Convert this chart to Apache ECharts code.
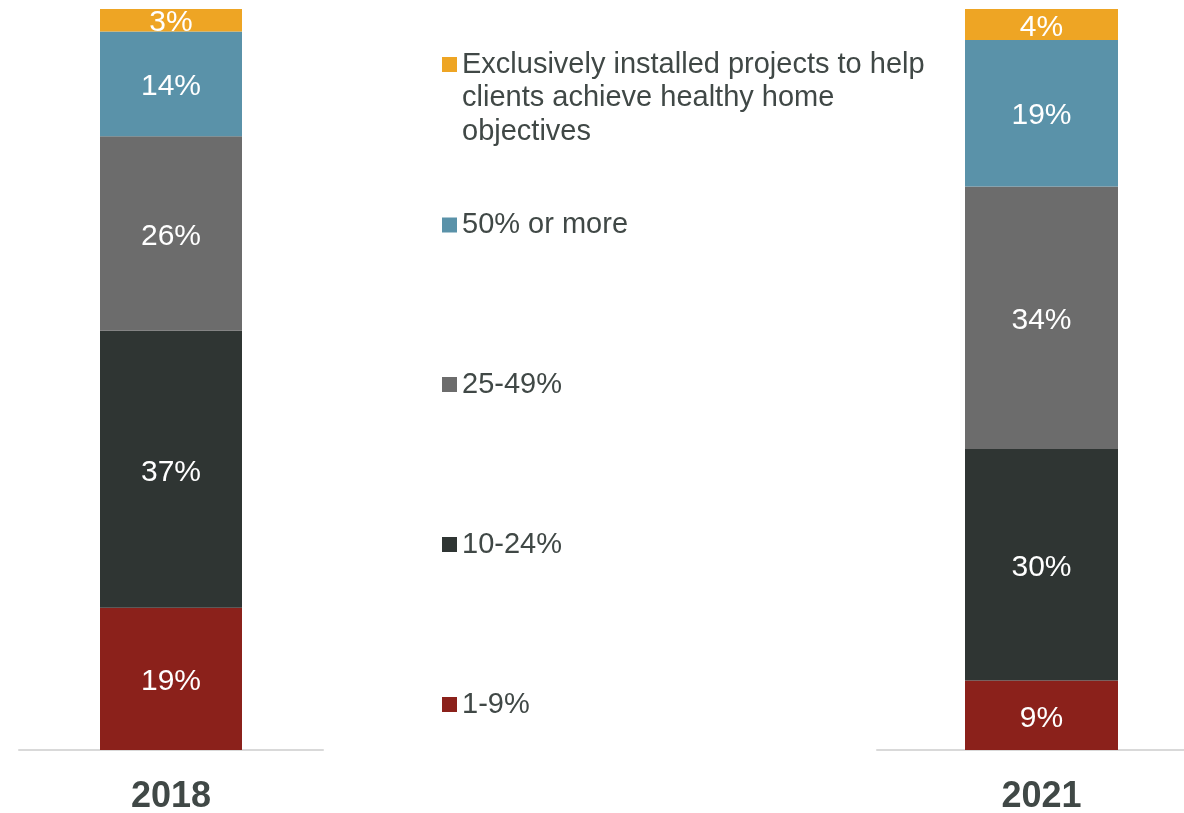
<!DOCTYPE html>
<html>
<head>
<meta charset="utf-8">
<script src="https://cdn.jsdelivr.net/npm/echarts@6/dist/echarts.min.js"></script>
<style>
  html, body { margin: 0; padding: 0; background: #ffffff; }
  #chart { width: 1184px; height: 813px; }
</style>
</head>
<body>
<div id="chart"></div>
<script>
// Survey years, one bar each
const years = ['2018', '2021'];

// Share of respondents per bracket, [2018, 2021]
const pct1to9 = [19, 9];
const pct10to24 = [37, 30];
const pct25to49 = [26, 34];
const pct50plus = [14, 19];
const pctExclusive = [3, 4];

// Brackets, stacked from the bottom up
const bracketNames = [
  '1-9%',
  '10-24%',
  '25-49%',
  '50% or more',
  'Exclusively installed projects to help clients achieve healthy home objectives'
];
const bracketValues = [pct1to9, pct10to24, pct25to49, pct50plus, pctExclusive];
const bracketColors = ['#8b211b', '#2f3533', '#6c6c6c', '#5a92a9', '#eea524'];

const FONT = '"Liberation Sans", Arial, Helvetica, sans-serif';
const TEXT = '#404846';

// Each year gets its own panel so the bars sit at the outer edges;
// the right panel runs past the page edge
const panels = [
  { left: 19, right: 861, barWidth: 142 },
  { left: 877, right: -22, barWidth: 153 }
];

const grid = panels.map(p => ({
  left: p.left, right: p.right, top: 9, bottom: 63,
  outerBoundsMode: 'none'
}));

const xAxis = years.map((y, i) => ({
  type: 'category',
  gridIndex: i,
  data: [y],
  axisLine: { show: true, lineStyle: { color: '#d9d9d9', width: 2 } },
  axisTick: { show: false },
  axisLabel: { fontFamily: FONT, fontSize: 36, fontWeight: 'bold', color: TEXT, margin: 29 }
}));

const yAxis = years.map((y, i) => ({
  type: 'value', gridIndex: i, min: 0, max: 100, show: false
}));

// Bars are drawn as shares of each year's total so both columns fill the panel
const series = [];
years.forEach((y, yi) => {
  const total = bracketValues.reduce((s, arr) => s + arr[yi], 0);
  bracketNames.forEach((name, bi) => {
    const v = bracketValues[bi][yi];
    series.push({
      type: 'bar',
      name: name,
      stack: 'year' + yi,
      xAxisIndex: yi,
      yAxisIndex: yi,
      barWidth: panels[yi].barWidth,
      itemStyle: { color: bracketColors[bi] },
      label: {
        show: true,
        position: 'inside',
        offset: [0, 3],
        color: '#ffffff',
        fontFamily: FONT,
        fontSize: 30,
        formatter: p => p.data.raw + '%'
      },
      emphasis: { disabled: true },
      data: [{ value: v / total * 100, raw: v }]
    });
  });
});

// One legend block per bracket, listed top to bottom
const legendLH = 33.5;
const legendCenters = [64.5, 225, 384.5, 544.5, 704.5];
const legendOrder = [4, 3, 2, 1, 0];
const legend = legendOrder.map((bi, k) => {
  const multi = bi === 4;
  return {
    orient: 'vertical',
    left: 442,
    top: multi ? legendCenters[k] - 2.5 * legendLH : legendCenters[k] - legendLH / 2,
    padding: 0,
    itemWidth: 15,
    itemHeight: 15,
    icon: 'rect',
    data: [bracketNames[bi]],
    textStyle: { fontFamily: FONT, fontSize: 29, color: TEXT, lineHeight: legendLH },
    formatter: multi
      ? () => '\n\nExclusively installed projects to help\nclients achieve healthy home\nobjectives'
      : n => n
  };
});

const chart = echarts.init(document.getElementById('chart'), null, { renderer: 'canvas' });
chart.setOption({
  animation: false,
  backgroundColor: '#ffffff',
  grid, xAxis, yAxis, legend, series
});
</script>
</body>
</html>
